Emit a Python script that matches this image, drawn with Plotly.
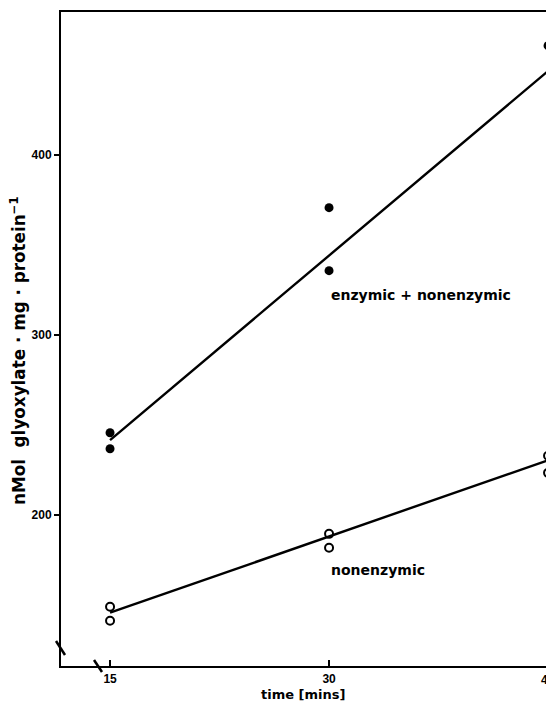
import plotly.graph_objects as go

# ---- data ----
time_enz = [15, 15, 30, 30, 45]
val_enz = [245.6, 236.7, 370.6, 335.6, 460.6]
time_non = [15, 15, 30, 30, 45, 45]
val_non = [148.9, 141.1, 189.4, 181.7, 232.8, 223.3]
fit_x = [15, 45]
fit_enz = [241.5, 446.5]
fit_non = [145.6, 230.3]
x_ticks = [15, 30, 45]
y_ticks = [200, 300, 400]
label_enz = "enzymic + nonenzymic"
label_non = "nonenzymic"
x_title = "time [mins]"
y_title = "nMol  glyoxylate · mg · protein<sup>−1</sup>"

W, H = 546, 702
L, R, T, B = 61, 0, 12, 36
X_RANGE = [11.64, 44.86]
Y_RANGE = [116.0, 479.3]

tick_font = dict(family="Liberation Sans", size=12, color="black", weight="bold")
txt_font = dict(family="DejaVu Sans", size=14, color="black", weight="bold")

fig = go.Figure()
fig.add_trace(go.Scatter(x=fit_x, y=fit_enz, mode="lines",
                         line=dict(color="black", width=2.4), hoverinfo="skip"))
fig.add_trace(go.Scatter(x=fit_x, y=fit_non, mode="lines",
                         line=dict(color="black", width=2.4), hoverinfo="skip"))
fig.add_trace(go.Scatter(x=time_enz, y=val_enz, mode="markers",
                         marker=dict(symbol="circle", size=9, color="black")))
fig.add_trace(go.Scatter(x=time_non, y=val_non, mode="markers",
                         marker=dict(symbol="circle-open", size=8, color="black",
                                     line=dict(width=2, color="black"))))

fig.update_layout(
    width=W, height=H, autosize=False,
    margin=dict(l=L, r=R, t=T, b=B, pad=0),
    paper_bgcolor="white", plot_bgcolor="white",
    showlegend=False,
    xaxis=dict(range=X_RANGE, tickvals=x_ticks[:2], ticks="inside", ticklen=6,
               tickwidth=2, tickcolor="black", showline=True, linewidth=2,
               linecolor="black", mirror=True, showgrid=False, zeroline=False,
               tickfont=tick_font, ticklabelstandoff=1),
    yaxis=dict(range=Y_RANGE, tickvals=y_ticks, ticks="outside", ticklen=5,
               tickwidth=2, tickcolor="black", showline=True, linewidth=2,
               linecolor="black", showgrid=False, zeroline=False,
               tickfont=tick_font, ticklabelstandoff=0),
)

pw = W - L - R
ph = H - T - B


def px(xp):
    return (xp - L) / pw


def py(yp):
    return (H - B - yp) / ph


# tick label of 45 sitting at the cut edge (placed in paper coords from the axis range)
x45 = (x_ticks[2] - X_RANGE[0]) / (X_RANGE[1] - X_RANGE[0])
fig.add_annotation(x=x45, y=py(680), xref="paper", yref="paper", text=str(x_ticks[2]),
                   showarrow=False, xanchor="center", yanchor="middle", font=tick_font)

# axis titles
fig.add_annotation(x=px(303), y=py(694), xref="paper", yref="paper", text=x_title,
                   showarrow=False, xanchor="center", yanchor="middle",
                   font=dict(txt_font, size=13))
fig.add_annotation(x=px(18), y=py(351), xref="paper", yref="paper", text=y_title,
                   showarrow=False, textangle=-90, xanchor="center", yanchor="middle",
                   font=dict(txt_font, size=16.8))

# series labels
fig.add_annotation(x=30.0, y=322.2, xref="x", yref="y", text=label_enz,
                   showarrow=False, xanchor="left", font=txt_font)
fig.add_annotation(x=30.0, y=169.4, xref="x", yref="y", text=label_non,
                   showarrow=False, xanchor="left", font=txt_font)

# axis break marks
fig.add_shape(type="line", xref="paper", yref="paper",
              x0=px(56), y0=py(641), x1=px(65), y1=py(655),
              line=dict(color="black", width=2.5))
fig.add_shape(type="line", xref="paper", yref="paper",
              x0=px(94), y0=py(660), x1=px(102), y1=py(672),
              line=dict(color="black", width=2.5))

fig.write_html("out.html", config={"displayModeBar": False},
               post_script="document.body.style.margin='0px';document.body.style.overflow='hidden';")
